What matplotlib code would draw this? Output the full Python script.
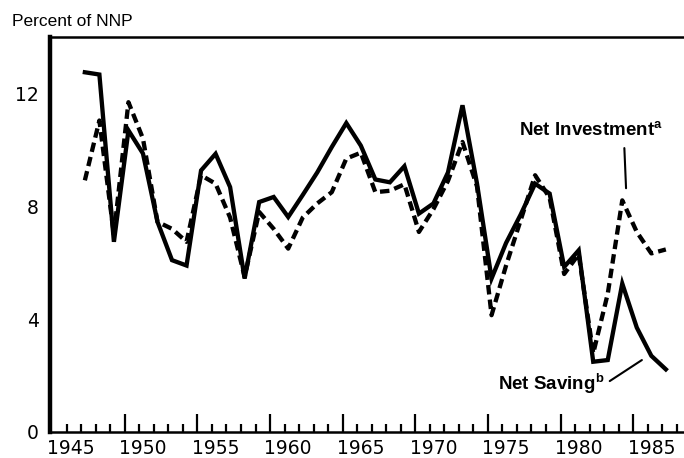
import matplotlib
matplotlib.use("Agg")
import matplotlib.pyplot as plt
from matplotlib.ticker import FixedLocator

plt.rcParams['font.family'] = ['Liberation Sans', 'DejaVu Sans']
plt.rcParams['mathtext.fontset'] = 'custom'
plt.rcParams['mathtext.bf'] = 'Liberation Sans:bold'
plt.rcParams['mathtext.rm'] = 'Liberation Sans:bold'

years = list(range(1946, 1987))

# percent of NNP
net_saving = [12.75, 12.67, 6.74, 10.69, 9.87, 7.45, 6.09, 5.90, 9.27, 9.86, 8.68,
              5.44, 8.15, 8.33, 7.62, 8.4, 9.2, 10.1, 10.95, 10.15, 8.95,
              8.85, 9.42, 7.74, 8.1, 9.2, 11.58, 8.8, 5.44, 6.7, 7.7,
              8.8, 8.45, 5.85, 6.44, 2.49, 2.55, 5.26, 3.7, 2.7, 2.22]
net_investment = [8.92, 11.04, 7.0, 11.69, 10.4, 7.45, 7.2, 6.74, 9.1, 8.8, 7.6,
                  5.5, 7.8, 7.2, 6.5, 7.6, 8.1, 8.5, 9.69, 9.9, 8.5,
                  8.55, 8.78, 7.09, 7.9, 8.9, 10.28, 8.7, 4.14, 5.9, 7.5,
                  9.1, 8.3, 5.6, 6.3, 2.79, 4.9, 8.21, 7.09, 6.33, 6.47]

label_years = [1945, 1950, 1955, 1960, 1965, 1970, 1975, 1980, 1985]
y_ticks = [0, 4, 8, 12]

fig = plt.figure(figsize=(6.84, 4.58), dpi=100)
ax = fig.add_axes([0.0731, 0.0568, 0.9269, 0.8624])

ax.plot(years, net_saving, color='black', lw=3.1, solid_joinstyle='miter')
ax.plot(years, net_investment, color='black', lw=3.1, linestyle=(0, (2.2, 1.2)))

ax.set_xlim(1943.6, 1987.25)
ax.set_ylim(0, 14)

# tick marks sit a bit left of the year labels, as in the original
ax.set_xticks([y - 1.25 for y in label_years[1:]])
ax.set_xticklabels([])
ax.xaxis.set_minor_locator(FixedLocator([y - 0.25 for y in range(1945, 1988)]))
ax.tick_params(axis='x', which='major', direction='in', length=13, width=1.6)
ax.tick_params(axis='x', which='minor', direction='in', length=6, width=1.6)

lab = ax.secondary_xaxis('bottom')
lab.set_xticks(label_years)
lab.set_xticklabels([str(y) for y in label_years], family='DejaVu Sans', fontsize=13.5)
lab.tick_params(length=0, pad=5)
lab.spines['bottom'].set_visible(False)

ax.set_yticks(y_ticks)
ax.set_yticklabels([str(v) for v in y_ticks], family='DejaVu Sans', fontsize=13.5)
ax.tick_params(axis='y', direction='in', length=0, pad=8)

ax.spines['right'].set_visible(False)
ax.spines['left'].set_linewidth(3.2)
ax.spines['bottom'].set_linewidth(1.8)
ax.spines['top'].set_linewidth(1.8)

fig.text(0.018, 0.952, 'Percent of NNP', fontsize=12.5, va='center', ha='left')

ax.annotate(r'Net Investment$^{\mathbf{a}}$', xy=(1983.26, 8.64), xytext=(1980.84, 10.69),
            ha='center', va='center', fontsize=13.5, fontweight='bold',
            arrowprops=dict(arrowstyle='-', lw=1.5, color='black', relpos=(0.73, 0.0),
                            shrinkA=4, shrinkB=0))
ax.annotate(r'Net Saving$^{\mathbf{b}}$', xy=(1984.35, 2.55), xytext=(1978.12, 1.73),
            ha='center', va='center', fontsize=13.5, fontweight='bold',
            arrowprops=dict(arrowstyle='-', lw=1.5, color='black', relpos=(1.0, 0.45),
                            shrinkA=2, shrinkB=0))

fig.savefig('out.png', dpi=100)
